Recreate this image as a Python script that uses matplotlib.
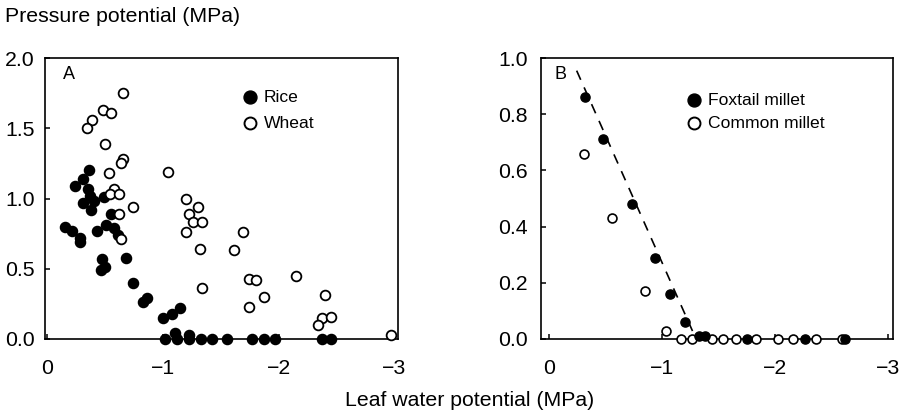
import matplotlib
matplotlib.use("Agg")
import matplotlib.pyplot as plt

plt.rcParams['font.family'] = ['Liberation Sans', 'DejaVu Sans']

# ---- data ----
rice_x = [-0.36, -0.31, -0.24, -0.35, -0.37, -0.49, -0.31, -0.40, -0.38, -0.55,
          -0.15, -0.21, -0.28, -0.28, -0.43, -0.51, -0.58, -0.61, -0.47, -0.46,
          -0.50, -0.68, -0.74, -0.83, -0.86, -1.00, -1.08, -1.15, -1.02, -1.10,
          -1.12, -1.22, -1.22, -1.33, -1.42, -1.55, -1.77, -1.87, -1.97, -2.37, -2.45]
rice_y = [1.20, 1.14, 1.09, 1.07, 1.02, 1.01, 0.97, 0.98, 0.92, 0.89,
          0.80, 0.77, 0.72, 0.69, 0.77, 0.81, 0.79, 0.74, 0.57, 0.49,
          0.51, 0.58, 0.40, 0.26, 0.29, 0.15, 0.18, 0.22, 0.0, 0.04,
          0.0, 0.03, 0.0, 0.0, 0.0, 0.0, 0.0, 0.0, 0.0, 0.0, 0.0]

wheat_x = [-0.65, -0.48, -0.55, -0.39, -0.34, -0.50, -0.65, -0.64, -0.53, -0.58,
           -0.54, -0.62, -0.74, -0.62, -0.64, -1.04, -1.20, -1.30, -1.22, -1.26,
           -1.34, -1.20, -1.32, -1.34, -1.61, -1.69, -1.74, -1.80, -1.87, -1.74,
           -2.15, -2.40, -2.37, -2.45, -2.34, -2.97]
wheat_y = [1.75, 1.63, 1.61, 1.56, 1.50, 1.39, 1.28, 1.25, 1.18, 1.07,
           1.03, 1.03, 0.94, 0.89, 0.71, 1.19, 1.00, 0.94, 0.89, 0.83,
           0.83, 0.76, 0.64, 0.36, 0.63, 0.76, 0.43, 0.42, 0.30, 0.23,
           0.45, 0.31, 0.15, 0.16, 0.10, 0.03]

foxtail_x = [-0.32, -0.48, -0.73, -0.94, -1.07, -1.20, -1.33, -1.38, -1.75, -2.26, -2.62]
foxtail_y = [0.86, 0.71, 0.48, 0.29, 0.16, 0.06, 0.01, 0.01, 0.0, 0.0, 0.0]

common_x = [-0.31, -0.56, -0.85, -1.03, -1.17, -1.26, -1.44, -1.54, -1.65, -1.83,
            -2.02, -2.16, -2.36, -2.59]
common_y = [0.66, 0.43, 0.17, 0.03, 0.0, 0.0, 0.0, 0.0, 0.0, 0.0, 0.0, 0.0, 0.0, 0.0]

fit_x = [-0.245, -1.30]
fit_y = [0.955, 0.0]

xtick_vals = [0, -1, -2, -3]
xtick_labels = ['0', '\u22121', '\u22122', '\u22123']
ytick_a = [0.0, 0.5, 1.0, 1.5, 2.0]
ytick_a_labels = ['0.0', '0.5', '1.0', '1.5', '2.0']
ytick_b = [0.0, 0.2, 0.4, 0.6, 0.8, 1.0]
ytick_b_labels = ['0.0', '0.2', '0.4', '0.6', '0.8', '1.0']

# ---- figure ----
W, H = 907, 416
fig = plt.figure(figsize=(W / 100, H / 100), dpi=100)
axA = fig.add_axes([45 / W, (H - 339) / H, 353 / W, 281 / H])
axB = fig.add_axes([541 / W, (H - 339) / H, 352 / W, 281 / H])

TICK_FS = 15.3
LEG_FS = 12.6
PANEL_FS = 13

def style(ax, ypad):
    for s in ax.spines.values():
        s.set_linewidth(1.2)
    ax.tick_params(axis='both', direction='in', length=3.5, width=1.1,
                   labelsize=TICK_FS)
    ax.tick_params(axis='y', pad=ypad)
    ax.tick_params(axis='x', pad=14.5)

# Panel A
axA.plot(rice_x, rice_y, 'o', ms=7.3, mfc='black', mec='black', mew=1.0,
         clip_on=False, zorder=3, linestyle='none')
axA.plot(wheat_x, wheat_y, 'o', ms=7.0, mfc='white', mec='black', mew=1.3,
         clip_on=False, zorder=3, linestyle='none')
axA.set_xlim(0.02, -3.03)
axA.set_ylim(0, 2.0)
axA.set_xticks(xtick_vals)
axA.set_xticklabels(xtick_labels)
axA.set_yticks(ytick_a)
axA.set_yticklabels(ytick_a_labels)
style(axA, 7.5)
axA.text(0.069, 0.94, 'A', transform=axA.transAxes, fontsize=PANEL_FS,
         ha='center', va='center')
# legend A
axA.plot([0.581], [0.860], 'o', ms=9.3, mfc='black', mec='black',
         transform=axA.transAxes, clip_on=False)
axA.plot([0.581], [0.768], 'o', ms=8.6, mfc='white', mec='black', mew=1.4,
         transform=axA.transAxes, clip_on=False)
axA.text(0.620, 0.860, 'Rice', transform=axA.transAxes, fontsize=LEG_FS,
         ha='left', va='center')
axA.text(0.620, 0.768, 'Wheat', transform=axA.transAxes, fontsize=LEG_FS,
         ha='left', va='center')

# Panel B
axB.plot(fit_x, fit_y, color='black', lw=1.2, linestyle=(0, (6, 5)), zorder=2)
axB.plot(common_x, common_y, 'o', ms=6.4, mfc='white', mec='black', mew=1.2,
         clip_on=False, zorder=3, linestyle='none')
axB.plot(foxtail_x, foxtail_y, 'o', ms=6.6, mfc='black', mec='black', mew=1.0,
         clip_on=False, zorder=4, linestyle='none')
axB.set_xlim(0.07, -3.04)
axB.set_ylim(0, 1.0)
axB.set_xticks(xtick_vals)
axB.set_xticklabels(xtick_labels)
axB.set_yticks(ytick_b)
axB.set_yticklabels(ytick_b_labels)
style(axB, 9.5)
axB.text(0.054, 0.94, 'B', transform=axB.transAxes, fontsize=PANEL_FS,
         ha='center', va='center')
# legend B
axB.plot([0.435], [0.850], 'o', ms=9.3, mfc='black', mec='black',
         transform=axB.transAxes, clip_on=False)
axB.plot([0.435], [0.768], 'o', ms=8.6, mfc='white', mec='black', mew=1.4,
         transform=axB.transAxes, clip_on=False)
axB.text(0.475, 0.850, 'Foxtail millet', transform=axB.transAxes, fontsize=LEG_FS,
         ha='left', va='center')
axB.text(0.475, 0.768, 'Common millet', transform=axB.transAxes, fontsize=LEG_FS,
         ha='left', va='center')

# axis titles
fig.text(5 / W, 1 - 16 / H, 'Pressure potential (MPa)', fontsize=TICK_FS,
         ha='left', va='center')
fig.text(470 / W, 1 - 400 / H, 'Leaf water potential (MPa)', fontsize=TICK_FS,
         ha='center', va='center')

fig.savefig('out.png', dpi=100)
